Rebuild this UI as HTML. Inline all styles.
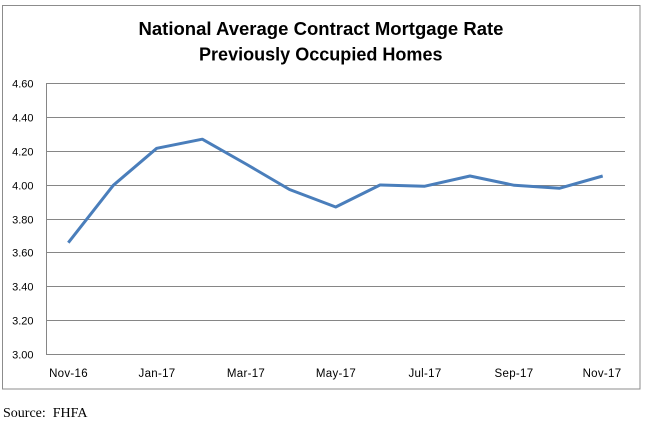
<!DOCTYPE html>
<html>
<head>
<meta charset="utf-8">
<style>
  html, body { margin: 0; padding: 0; background: #ffffff; }
  body { width: 645px; height: 430px; overflow: hidden; }
  svg { display: block; }
</style>
</head>
<body>
<svg width="645" height="430" viewBox="0 0 645 430" xmlns="http://www.w3.org/2000/svg">
  <rect x="0" y="0" width="645" height="430" fill="#ffffff"/>
  <!-- chart border -->
  <rect x="2.5" y="5.5" width="637.5" height="383.5" fill="none" stroke="#8c8c8c" stroke-width="1"/>

  <!-- title -->
  <text x="138.5" y="35" textLength="365" lengthAdjust="spacingAndGlyphs" font-family="'Liberation Sans', sans-serif" font-weight="bold" font-size="18" fill="#000">National Average Contract Mortgage Rate</text>
  <text x="199" y="60.5" textLength="243.5" lengthAdjust="spacingAndGlyphs" font-family="'Liberation Sans', sans-serif" font-weight="bold" font-size="18" fill="#000">Previously Occupied Homes</text>

  <!-- gridlines -->
  <g stroke="#868686" stroke-width="1">
    <line x1="46" y1="83.5" x2="625" y2="83.5"/>
    <line x1="46" y1="117.5" x2="625" y2="117.5"/>
    <line x1="46" y1="151.5" x2="625" y2="151.5"/>
    <line x1="46" y1="185.5" x2="625" y2="185.5"/>
    <line x1="46" y1="219.5" x2="625" y2="219.5"/>
    <line x1="46" y1="252.5" x2="625" y2="252.5"/>
    <line x1="46" y1="286.5" x2="625" y2="286.5"/>
    <line x1="46" y1="320.5" x2="625" y2="320.5"/>
    <line x1="46" y1="354.5" x2="625" y2="354.5"/>
    <line x1="46.5" y1="83.5" x2="46.5" y2="354.5"/>
  </g>

  <!-- y labels -->
  <g font-family="'Liberation Sans', sans-serif" font-size="11" fill="#000" text-anchor="end">
    <text x="33.5" y="87.5">4.60</text>
    <text x="33.5" y="121.5">4.40</text>
    <text x="33.5" y="155.5">4.20</text>
    <text x="33.5" y="189.5">4.00</text>
    <text x="33.5" y="223.5">3.80</text>
    <text x="33.5" y="256.5">3.60</text>
    <text x="33.5" y="290.5">3.40</text>
    <text x="33.5" y="324.5">3.20</text>
    <text x="33.5" y="358.5">3.00</text>
  </g>

  <!-- x labels -->
  <g font-family="'Liberation Sans', sans-serif" font-size="11.5" fill="#000" text-anchor="middle" letter-spacing="0.3">
    <text x="68.5" y="377">Nov-16</text>
    <text x="157" y="377">Jan-17</text>
    <text x="246" y="377">Mar-17</text>
    <text x="336" y="377">May-17</text>
    <text x="425" y="377">Jul-17</text>
    <text x="514" y="377">Sep-17</text>
    <text x="602" y="377">Nov-17</text>
  </g>

  <!-- series -->
  <polyline fill="none" stroke="#4a7ebb" stroke-width="3" stroke-linejoin="round" stroke-linecap="butt"
    points="68.3,242.7 113.3,185.3 156.7,148.3 202.3,139.2 246,164 289.5,189.5 335.7,207 380,185 424.3,186.3 470,176 514.3,185.3 559.3,188.3 602.7,176"/>

  <!-- source -->
  <text x="3" y="417" font-family="'Liberation Serif', serif" font-size="14" fill="#000" xml:space="preserve">Source:  FHFA</text>
</svg>
</body>
</html>
